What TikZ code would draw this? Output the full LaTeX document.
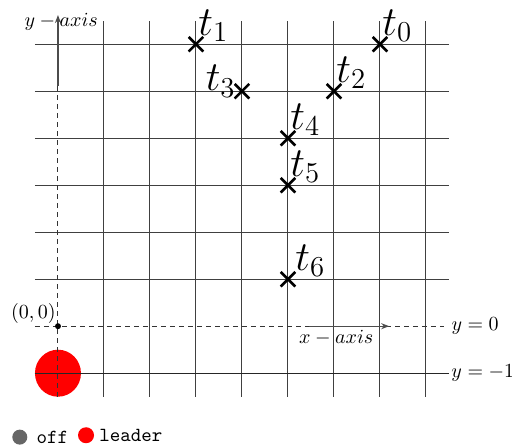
\documentclass[tikz,border=0pt]{standalone}
\usepackage{tikz}
\usetikzlibrary{shapes.misc,arrows.meta,positioning}

\begin{document}
\begin{tikzpicture}[
        x=23pt, y=23.5pt,
        node distance=2pt,
        gridline/.style={draw=black!75, line width=0.5pt},
        axisline/.style={draw=black!80, line width=0.5pt, dash pattern=on 2.5pt off 2pt},
        axisarrow/.style={-{Stealth[length=4pt, width=3pt]}, draw=black!70, line width=0.6pt},
        tmark/.style={cross out, draw=black, line width=1.3pt, minimum size=6pt, inner sep=0pt},
        tlabel/.style={font=\fontsize{19.5}{23}\selectfont, inner sep=1pt},
        legenddot/.style={circle, minimum size=7.5pt, inner sep=0pt}
    ]
        \useasboundingbox (-1.26,-2.57) rectangle (9.87,6.94);

        % leader position
        \fill[red] (0,-1) circle (0.5);

        % grid
        \foreach \x in {1,...,8}
            \draw[gridline] (\x,-1.5) -- (\x,6.5);
        \foreach \y in {1,...,6}
            \draw[gridline] (-0.5,\y) -- (8.5,\y);
        \draw[draw=black!85, line width=0.5pt] (-0.5,-1) -- (8.5,-1) node[right, inner sep=1pt] (ylow) {$y=-1$};

        % axes
        \draw[axisline] (-0.5,0) -- (8.4,0) node[right] (yzero) {$y=0$};
        \draw[axisline] (0,-1.5) -- (0,6.5);
        \draw[axisarrow] (5.46,0) -- (7.2,0);
        \draw[axisarrow] (0,5.1) -- (0,6.62);
        \node (xaxis) at (6.05,-0.25) {$x-axis$};
        \node (yaxis) at (0.07,6.47) {$y-axis$};

        % origin
        \fill (0,0) circle (1.5pt);
        \node[above left, inner sep=1pt] (origin) at (0,0) {$(0,0)$};

        % positions
        \node[tmark] (t0) at (7,6) {};
        \node[tmark] (t1) at (3,6) {};
        \node[tmark] (t2) at (6,5) {};
        \node[tmark] (t3) at (4,5) {};
        \node[tmark] (t4) at (5,4) {};
        \node[tmark] (t5) at (5,3) {};
        \node[tmark] (t6) at (5,1) {};
        \node[tlabel, anchor=south west] at (t0.center) {$t_0$};
        \node[tlabel, anchor=south west] at (t1.center) {$t_1$};
        \node[tlabel, anchor=south west] at (t2.center) {$t_2$};
        \node[tlabel, anchor=east, xshift=-2pt, yshift=5pt] at (t3.center) {$t_3$};
        \node[tlabel, anchor=south west] at (t4.center) {$t_4$};
        \node[tlabel, anchor=south west] at (t5.center) {$t_5$};
        \node[tlabel, anchor=south west, xshift=2.5pt] at (t6.center) {$t_6$};

        % legend
        \node[legenddot, fill=black!60] (offdot) at (-0.83,-2.36) {};
        \node[right=1pt of offdot, anchor=west] (offtext) {\texttt{off}};
        \node[legenddot, fill=red, minimum size=8pt] (leaderdot) at (0.61,-2.32) {};
        \node[right=0pt of leaderdot, anchor=west, xshift=-1pt] (leadertext) {\texttt{leader}};
    \end{tikzpicture}
\end{document}
